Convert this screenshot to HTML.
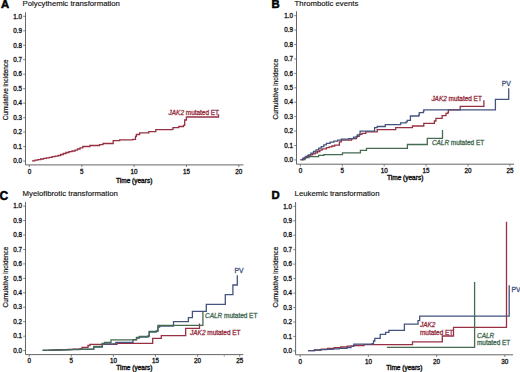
<!DOCTYPE html><html><head><meta charset="utf-8"><style>html,body{margin:0;padding:0;background:#fff;}svg{display:block;font-family:"Liberation Sans",sans-serif;}</style></head><body>
<svg width="520" height="372" viewBox="0 0 520 372">
<text x="1.1" y="8.1" font-size="11.3" font-weight="bold" fill="#000" stroke="#000" stroke-width="0.5">A</text>
<text x="22.6" y="6.3" font-size="7.75" fill="#111" stroke="#111" stroke-width="0.15">Polycythemic transformation</text>
<path d="M25.5 12.3V164.9H243.5" fill="none" stroke="#666" stroke-width="1"/>
<path d="M23.2 161.1H25.5" stroke="#666" stroke-width="0.8"/>
<text x="21.9" y="163.29999999999998" font-size="6.3" text-anchor="end" font-weight="normal" font-style="normal" fill="#111" stroke="#111" stroke-width="0.3" >0.0</text>
<path d="M23.2 146.6H25.5" stroke="#666" stroke-width="0.8"/>
<text x="21.9" y="148.79999999999998" font-size="6.3" text-anchor="end" font-weight="normal" font-style="normal" fill="#111" stroke="#111" stroke-width="0.3" >0.1</text>
<path d="M23.2 132.1H25.5" stroke="#666" stroke-width="0.8"/>
<text x="21.9" y="134.29999999999998" font-size="6.3" text-anchor="end" font-weight="normal" font-style="normal" fill="#111" stroke="#111" stroke-width="0.3" >0.2</text>
<path d="M23.2 117.7H25.5" stroke="#666" stroke-width="0.8"/>
<text x="21.9" y="119.9" font-size="6.3" text-anchor="end" font-weight="normal" font-style="normal" fill="#111" stroke="#111" stroke-width="0.3" >0.3</text>
<path d="M23.2 103.2H25.5" stroke="#666" stroke-width="0.8"/>
<text x="21.9" y="105.4" font-size="6.3" text-anchor="end" font-weight="normal" font-style="normal" fill="#111" stroke="#111" stroke-width="0.3" >0.4</text>
<path d="M23.2 88.7H25.5" stroke="#666" stroke-width="0.8"/>
<text x="21.9" y="90.9" font-size="6.3" text-anchor="end" font-weight="normal" font-style="normal" fill="#111" stroke="#111" stroke-width="0.3" >0.5</text>
<path d="M23.2 74.2H25.5" stroke="#666" stroke-width="0.8"/>
<text x="21.9" y="76.4" font-size="6.3" text-anchor="end" font-weight="normal" font-style="normal" fill="#111" stroke="#111" stroke-width="0.3" >0.6</text>
<path d="M23.2 59.7H25.5" stroke="#666" stroke-width="0.8"/>
<text x="21.9" y="61.900000000000006" font-size="6.3" text-anchor="end" font-weight="normal" font-style="normal" fill="#111" stroke="#111" stroke-width="0.3" >0.7</text>
<path d="M23.2 45.3H25.5" stroke="#666" stroke-width="0.8"/>
<text x="21.9" y="47.5" font-size="6.3" text-anchor="end" font-weight="normal" font-style="normal" fill="#111" stroke="#111" stroke-width="0.3" >0.8</text>
<path d="M23.2 30.8H25.5" stroke="#666" stroke-width="0.8"/>
<text x="21.9" y="33.0" font-size="6.3" text-anchor="end" font-weight="normal" font-style="normal" fill="#111" stroke="#111" stroke-width="0.3" >0.9</text>
<path d="M23.2 16.3H25.5" stroke="#666" stroke-width="0.8"/>
<text x="21.9" y="18.5" font-size="6.3" text-anchor="end" font-weight="normal" font-style="normal" fill="#111" stroke="#111" stroke-width="0.3" >1.0</text>
<path d="M29.4 164.9V167.1" stroke="#666" stroke-width="0.8"/>
<text x="29.4" y="173.6" font-size="6.3" text-anchor="middle" font-weight="normal" font-style="normal" fill="#111" stroke="#111" stroke-width="0.3" >0</text>
<path d="M81.8 164.9V167.1" stroke="#666" stroke-width="0.8"/>
<text x="81.8" y="173.6" font-size="6.3" text-anchor="middle" font-weight="normal" font-style="normal" fill="#111" stroke="#111" stroke-width="0.3" >5</text>
<path d="M134.1 164.9V167.1" stroke="#666" stroke-width="0.8"/>
<text x="134.1" y="173.6" font-size="6.3" text-anchor="middle" font-weight="normal" font-style="normal" fill="#111" stroke="#111" stroke-width="0.3" >10</text>
<path d="M186.5 164.9V167.1" stroke="#666" stroke-width="0.8"/>
<text x="186.5" y="173.6" font-size="6.3" text-anchor="middle" font-weight="normal" font-style="normal" fill="#111" stroke="#111" stroke-width="0.3" >15</text>
<path d="M238.8 164.9V167.1" stroke="#666" stroke-width="0.8"/>
<text x="238.8" y="173.6" font-size="6.3" text-anchor="middle" font-weight="normal" font-style="normal" fill="#111" stroke="#111" stroke-width="0.3" >20</text>
<text x="134.2" y="183.3" font-size="6.5" text-anchor="middle" fill="#111" stroke="#111" stroke-width="0.38">Time (years)</text>
<text x="0" y="0" font-size="6.4" text-anchor="middle" fill="#111" stroke="#111" stroke-width="0.2" transform="translate(8.2 89.8) rotate(-90)">Cumulative incidence</text>
<text x="271.6" y="8.4" font-size="11.3" font-weight="bold" fill="#000" stroke="#000" stroke-width="0.5">B</text>
<text x="294.6" y="6.3" font-size="7.75" fill="#111" stroke="#111" stroke-width="0.15">Thrombotic events</text>
<path d="M296.5 11.3V164.2H514" fill="none" stroke="#666" stroke-width="1"/>
<path d="M294.2 159.9H296.5" stroke="#666" stroke-width="0.8"/>
<text x="292.9" y="162.1" font-size="6.3" text-anchor="end" font-weight="normal" font-style="normal" fill="#111" stroke="#111" stroke-width="0.3" >0.0</text>
<path d="M294.2 145.5H296.5" stroke="#666" stroke-width="0.8"/>
<text x="292.9" y="147.7" font-size="6.3" text-anchor="end" font-weight="normal" font-style="normal" fill="#111" stroke="#111" stroke-width="0.3" >0.1</text>
<path d="M294.2 131.1H296.5" stroke="#666" stroke-width="0.8"/>
<text x="292.9" y="133.29999999999998" font-size="6.3" text-anchor="end" font-weight="normal" font-style="normal" fill="#111" stroke="#111" stroke-width="0.3" >0.2</text>
<path d="M294.2 116.6H296.5" stroke="#666" stroke-width="0.8"/>
<text x="292.9" y="118.8" font-size="6.3" text-anchor="end" font-weight="normal" font-style="normal" fill="#111" stroke="#111" stroke-width="0.3" >0.3</text>
<path d="M294.2 102.2H296.5" stroke="#666" stroke-width="0.8"/>
<text x="292.9" y="104.4" font-size="6.3" text-anchor="end" font-weight="normal" font-style="normal" fill="#111" stroke="#111" stroke-width="0.3" >0.4</text>
<path d="M294.2 87.8H296.5" stroke="#666" stroke-width="0.8"/>
<text x="292.9" y="90.0" font-size="6.3" text-anchor="end" font-weight="normal" font-style="normal" fill="#111" stroke="#111" stroke-width="0.3" >0.5</text>
<path d="M294.2 73.4H296.5" stroke="#666" stroke-width="0.8"/>
<text x="292.9" y="75.60000000000001" font-size="6.3" text-anchor="end" font-weight="normal" font-style="normal" fill="#111" stroke="#111" stroke-width="0.3" >0.6</text>
<path d="M294.2 59.0H296.5" stroke="#666" stroke-width="0.8"/>
<text x="292.9" y="61.2" font-size="6.3" text-anchor="end" font-weight="normal" font-style="normal" fill="#111" stroke="#111" stroke-width="0.3" >0.7</text>
<path d="M294.2 44.5H296.5" stroke="#666" stroke-width="0.8"/>
<text x="292.9" y="46.7" font-size="6.3" text-anchor="end" font-weight="normal" font-style="normal" fill="#111" stroke="#111" stroke-width="0.3" >0.8</text>
<path d="M294.2 30.1H296.5" stroke="#666" stroke-width="0.8"/>
<text x="292.9" y="32.300000000000004" font-size="6.3" text-anchor="end" font-weight="normal" font-style="normal" fill="#111" stroke="#111" stroke-width="0.3" >0.9</text>
<path d="M294.2 15.7H296.5" stroke="#666" stroke-width="0.8"/>
<text x="292.9" y="17.9" font-size="6.3" text-anchor="end" font-weight="normal" font-style="normal" fill="#111" stroke="#111" stroke-width="0.3" >1.0</text>
<path d="M300.4 164.2V166.39999999999998" stroke="#666" stroke-width="0.8"/>
<text x="300.4" y="172.6" font-size="6.3" text-anchor="middle" font-weight="normal" font-style="normal" fill="#111" stroke="#111" stroke-width="0.3" >0</text>
<path d="M342.3 164.2V166.39999999999998" stroke="#666" stroke-width="0.8"/>
<text x="342.3" y="172.6" font-size="6.3" text-anchor="middle" font-weight="normal" font-style="normal" fill="#111" stroke="#111" stroke-width="0.3" >5</text>
<path d="M384.2 164.2V166.39999999999998" stroke="#666" stroke-width="0.8"/>
<text x="384.2" y="172.6" font-size="6.3" text-anchor="middle" font-weight="normal" font-style="normal" fill="#111" stroke="#111" stroke-width="0.3" >10</text>
<path d="M426.1 164.2V166.39999999999998" stroke="#666" stroke-width="0.8"/>
<text x="426.1" y="172.6" font-size="6.3" text-anchor="middle" font-weight="normal" font-style="normal" fill="#111" stroke="#111" stroke-width="0.3" >15</text>
<path d="M468.0 164.2V166.39999999999998" stroke="#666" stroke-width="0.8"/>
<text x="468.0" y="172.6" font-size="6.3" text-anchor="middle" font-weight="normal" font-style="normal" fill="#111" stroke="#111" stroke-width="0.3" >20</text>
<path d="M509.9 164.2V166.39999999999998" stroke="#666" stroke-width="0.8"/>
<text x="509.9" y="172.6" font-size="6.3" text-anchor="middle" font-weight="normal" font-style="normal" fill="#111" stroke="#111" stroke-width="0.3" >25</text>
<text x="405.2" y="179.6" font-size="6.5" text-anchor="middle" fill="#111" stroke="#111" stroke-width="0.38">Time (years)</text>
<text x="0" y="0" font-size="6.4" text-anchor="middle" fill="#111" stroke="#111" stroke-width="0.2" transform="translate(277.6 89) rotate(-90)">Cumulative incidence</text>
<text x="-0.6" y="199.5" font-size="12.0" font-weight="bold" fill="#000" stroke="#000" stroke-width="0.5">C</text>
<text x="22.6" y="196.1" font-size="7.75" fill="#111" stroke="#111" stroke-width="0.15">Myelofibrotic transformation</text>
<path d="M25.5 201.9V354.6H243.3" fill="none" stroke="#666" stroke-width="1"/>
<path d="M23.2 350.6H25.5" stroke="#666" stroke-width="0.8"/>
<text x="21.9" y="352.8" font-size="6.3" text-anchor="end" font-weight="normal" font-style="normal" fill="#111" stroke="#111" stroke-width="0.3" >0.0</text>
<path d="M23.2 336.2H25.5" stroke="#666" stroke-width="0.8"/>
<text x="21.9" y="338.4" font-size="6.3" text-anchor="end" font-weight="normal" font-style="normal" fill="#111" stroke="#111" stroke-width="0.3" >0.1</text>
<path d="M23.2 321.7H25.5" stroke="#666" stroke-width="0.8"/>
<text x="21.9" y="323.9" font-size="6.3" text-anchor="end" font-weight="normal" font-style="normal" fill="#111" stroke="#111" stroke-width="0.3" >0.2</text>
<path d="M23.2 307.2H25.5" stroke="#666" stroke-width="0.8"/>
<text x="21.9" y="309.4" font-size="6.3" text-anchor="end" font-weight="normal" font-style="normal" fill="#111" stroke="#111" stroke-width="0.3" >0.3</text>
<path d="M23.2 292.8H25.5" stroke="#666" stroke-width="0.8"/>
<text x="21.9" y="295.0" font-size="6.3" text-anchor="end" font-weight="normal" font-style="normal" fill="#111" stroke="#111" stroke-width="0.3" >0.4</text>
<path d="M23.2 278.4H25.5" stroke="#666" stroke-width="0.8"/>
<text x="21.9" y="280.59999999999997" font-size="6.3" text-anchor="end" font-weight="normal" font-style="normal" fill="#111" stroke="#111" stroke-width="0.3" >0.5</text>
<path d="M23.2 263.9H25.5" stroke="#666" stroke-width="0.8"/>
<text x="21.9" y="266.09999999999997" font-size="6.3" text-anchor="end" font-weight="normal" font-style="normal" fill="#111" stroke="#111" stroke-width="0.3" >0.6</text>
<path d="M23.2 249.5H25.5" stroke="#666" stroke-width="0.8"/>
<text x="21.9" y="251.7" font-size="6.3" text-anchor="end" font-weight="normal" font-style="normal" fill="#111" stroke="#111" stroke-width="0.3" >0.7</text>
<path d="M23.2 235.0H25.5" stroke="#666" stroke-width="0.8"/>
<text x="21.9" y="237.2" font-size="6.3" text-anchor="end" font-weight="normal" font-style="normal" fill="#111" stroke="#111" stroke-width="0.3" >0.8</text>
<path d="M23.2 220.6H25.5" stroke="#666" stroke-width="0.8"/>
<text x="21.9" y="222.79999999999998" font-size="6.3" text-anchor="end" font-weight="normal" font-style="normal" fill="#111" stroke="#111" stroke-width="0.3" >0.9</text>
<path d="M23.2 206.1H25.5" stroke="#666" stroke-width="0.8"/>
<text x="21.9" y="208.29999999999998" font-size="6.3" text-anchor="end" font-weight="normal" font-style="normal" fill="#111" stroke="#111" stroke-width="0.3" >1.0</text>
<path d="M29.2 354.6V356.8" stroke="#666" stroke-width="0.8"/>
<text x="29.2" y="363.3" font-size="6.3" text-anchor="middle" font-weight="normal" font-style="normal" fill="#111" stroke="#111" stroke-width="0.3" >0</text>
<path d="M71.3 354.6V356.8" stroke="#666" stroke-width="0.8"/>
<text x="71.3" y="363.3" font-size="6.3" text-anchor="middle" font-weight="normal" font-style="normal" fill="#111" stroke="#111" stroke-width="0.3" >5</text>
<path d="M113.4 354.6V356.8" stroke="#666" stroke-width="0.8"/>
<text x="113.4" y="363.3" font-size="6.3" text-anchor="middle" font-weight="normal" font-style="normal" fill="#111" stroke="#111" stroke-width="0.3" >10</text>
<path d="M155.5 354.6V356.8" stroke="#666" stroke-width="0.8"/>
<text x="155.5" y="363.3" font-size="6.3" text-anchor="middle" font-weight="normal" font-style="normal" fill="#111" stroke="#111" stroke-width="0.3" >15</text>
<path d="M197.6 354.6V356.8" stroke="#666" stroke-width="0.8"/>
<text x="197.6" y="363.3" font-size="6.3" text-anchor="middle" font-weight="normal" font-style="normal" fill="#111" stroke="#111" stroke-width="0.3" >20</text>
<path d="M239.7 354.6V356.8" stroke="#666" stroke-width="0.8"/>
<text x="239.7" y="363.3" font-size="6.3" text-anchor="middle" font-weight="normal" font-style="normal" fill="#111" stroke="#111" stroke-width="0.3" >25</text>
<text x="134.4" y="370.2" font-size="6.5" text-anchor="middle" fill="#111" stroke="#111" stroke-width="0.38">Time (years)</text>
<text x="0" y="0" font-size="6.4" text-anchor="middle" fill="#111" stroke="#111" stroke-width="0.2" transform="translate(8.2 277) rotate(-90)">Cumulative incidence</text>
<text x="271.4" y="198.9" font-size="11.3" font-weight="bold" fill="#000" stroke="#000" stroke-width="0.5">D</text>
<text x="294.6" y="196.1" font-size="7.75" fill="#111" stroke="#111" stroke-width="0.15">Leukemic transformation</text>
<path d="M295.6 202V354.8H513" fill="none" stroke="#666" stroke-width="1"/>
<path d="M293.3 350.9H295.6" stroke="#666" stroke-width="0.8"/>
<text x="292.0" y="353.09999999999997" font-size="6.3" text-anchor="end" font-weight="normal" font-style="normal" fill="#111" stroke="#111" stroke-width="0.3" >0.0</text>
<path d="M293.3 336.4H295.6" stroke="#666" stroke-width="0.8"/>
<text x="292.0" y="338.59999999999997" font-size="6.3" text-anchor="end" font-weight="normal" font-style="normal" fill="#111" stroke="#111" stroke-width="0.3" >0.1</text>
<path d="M293.3 322.0H295.6" stroke="#666" stroke-width="0.8"/>
<text x="292.0" y="324.2" font-size="6.3" text-anchor="end" font-weight="normal" font-style="normal" fill="#111" stroke="#111" stroke-width="0.3" >0.2</text>
<path d="M293.3 307.5H295.6" stroke="#666" stroke-width="0.8"/>
<text x="292.0" y="309.7" font-size="6.3" text-anchor="end" font-weight="normal" font-style="normal" fill="#111" stroke="#111" stroke-width="0.3" >0.3</text>
<path d="M293.3 293.1H295.6" stroke="#666" stroke-width="0.8"/>
<text x="292.0" y="295.3" font-size="6.3" text-anchor="end" font-weight="normal" font-style="normal" fill="#111" stroke="#111" stroke-width="0.3" >0.4</text>
<path d="M293.3 278.6H295.6" stroke="#666" stroke-width="0.8"/>
<text x="292.0" y="280.8" font-size="6.3" text-anchor="end" font-weight="normal" font-style="normal" fill="#111" stroke="#111" stroke-width="0.3" >0.5</text>
<path d="M293.3 264.1H295.6" stroke="#666" stroke-width="0.8"/>
<text x="292.0" y="266.3" font-size="6.3" text-anchor="end" font-weight="normal" font-style="normal" fill="#111" stroke="#111" stroke-width="0.3" >0.6</text>
<path d="M293.3 249.7H295.6" stroke="#666" stroke-width="0.8"/>
<text x="292.0" y="251.89999999999998" font-size="6.3" text-anchor="end" font-weight="normal" font-style="normal" fill="#111" stroke="#111" stroke-width="0.3" >0.7</text>
<path d="M293.3 235.2H295.6" stroke="#666" stroke-width="0.8"/>
<text x="292.0" y="237.39999999999998" font-size="6.3" text-anchor="end" font-weight="normal" font-style="normal" fill="#111" stroke="#111" stroke-width="0.3" >0.8</text>
<path d="M293.3 220.8H295.6" stroke="#666" stroke-width="0.8"/>
<text x="292.0" y="223.0" font-size="6.3" text-anchor="end" font-weight="normal" font-style="normal" fill="#111" stroke="#111" stroke-width="0.3" >0.9</text>
<path d="M293.3 206.3H295.6" stroke="#666" stroke-width="0.8"/>
<text x="292.0" y="208.5" font-size="6.3" text-anchor="end" font-weight="normal" font-style="normal" fill="#111" stroke="#111" stroke-width="0.3" >1.0</text>
<path d="M300.2 354.8V357.0" stroke="#666" stroke-width="0.8"/>
<text x="300.2" y="363.6" font-size="6.3" text-anchor="middle" font-weight="normal" font-style="normal" fill="#111" stroke="#111" stroke-width="0.3" >0</text>
<path d="M368.4 354.8V357.0" stroke="#666" stroke-width="0.8"/>
<text x="368.4" y="363.6" font-size="6.3" text-anchor="middle" font-weight="normal" font-style="normal" fill="#111" stroke="#111" stroke-width="0.3" >10</text>
<path d="M436.6 354.8V357.0" stroke="#666" stroke-width="0.8"/>
<text x="436.6" y="363.6" font-size="6.3" text-anchor="middle" font-weight="normal" font-style="normal" fill="#111" stroke="#111" stroke-width="0.3" >20</text>
<path d="M504.8 354.8V357.0" stroke="#666" stroke-width="0.8"/>
<text x="504.8" y="363.6" font-size="6.3" text-anchor="middle" font-weight="normal" font-style="normal" fill="#111" stroke="#111" stroke-width="0.3" >30</text>
<text x="404.4" y="370.4" font-size="6.5" text-anchor="middle" fill="#111" stroke="#111" stroke-width="0.38">Time (years)</text>
<text x="0" y="0" font-size="6.4" text-anchor="middle" fill="#111" stroke="#111" stroke-width="0.2" transform="translate(277.6 277) rotate(-90)">Cumulative incidence</text>
<path d="M32 160.8H34.9V160.2H37.8V159.6H40.7V159.0H43.6V158.4H46.4V157.9H49.3V157.3H52.2V156.7H55.1V156.1H58.0V155.5H60.7V154.5H63.3V153.5H66.0V152.5H69.0V151.7H72.0V151.0H75.0V150.2H77.5V149.0H80.0V147.8H82.8V146.5H89.9V145.5H99.5V144.7H103V143.5H113.2V140.7H119.7V139.9H132.8V139.3H135.5V136.3H136.4V134.5H139.6V132.8H148.8V131.7H155.8V129.7H171.9V129.3H173V127.6H178.8V126.5H183.5V125.3H184.7V120H186.4V117H218.5V114.2" fill="none" stroke="#963042" stroke-width="1.3" stroke-linejoin="miter" stroke-linecap="butt"/>
<text x="168.6" y="114.8" font-size="6.45" fill="#963042" stroke="#963042" stroke-width="0.3"><tspan font-style="italic">JAK2</tspan> mutated ET</text>
<path d="M300.6 159.7H305V157.5H309V156.7H318.6V155.4H323.8V154.6H342.5V152.8H360.4V150.4H366.5V148.3H407.4V144.5H427.3V138.3H442.5V130" fill="none" stroke="#456b52" stroke-width="1.3" stroke-linejoin="miter" stroke-linecap="butt"/>
<path d="M300.6 159.7H302.9V158.4H305.2V157.1H307.5V155.8H310.1V154.8H312.6V153.8H315.2V152.8H317.5V151.5H319.8V150.2H322.1V148.9H326.4V147.6H329.2V146.8H331.9V146.0H334.7V145.2H339.4V141.9H341.3V140.1H351.6V138.6H356.4V136.3H359.2V134.4H362V133.3H365.8V131.8H377.2V129.6H395.7V127.7H412.4V126H423.8V123.4H434.4V121H435.9V118.4H442.1V115.7H446V113.3H447.9V112.3H448.4V109.9H460.2V106.3H483.9V100.2" fill="none" stroke="#963042" stroke-width="1.3" stroke-linejoin="miter" stroke-linecap="butt"/>
<path d="M300.6 159.7H303.2V158.1H305.8V156.4H308.3V154.8H310.9V153.1H313.5V151.5H316.1V149.9H318.7V148.2H321.2V146.6H323.8V144.9H326.4V143.3H330.1V142.2H333.9V141.2H337.6V140.2H341.3V139.1H348.8V138.6H353.5V137.2H357.3V134.9H360.1V131.1H374.6V127.7H377.2V126.5H385.3V124.6H400.6V122.8H406.1V121.9H407.2V120.3H410.4V116H418.8V115H419.3V112.7H423.4V111.5H423.8V109.8H495.4V99.3H508.7V88.3" fill="none" stroke="#44547f" stroke-width="1.3" stroke-linejoin="miter" stroke-linecap="butt"/>
<text x="431.4" y="101.4" font-size="6.45" fill="#963042" stroke="#963042" stroke-width="0.3"><tspan font-style="italic">JAK2</tspan> mutated ET</text>
<text x="431.9" y="145.3" font-size="6.45" fill="#456b52" stroke="#456b52" stroke-width="0.3"><tspan font-style="italic">CALR</tspan> mutated ET</text>
<text x="501.8" y="86.0" font-size="6.8" text-anchor="start" font-weight="normal" font-style="normal" fill="#44547f" stroke="#44547f" stroke-width="0.3" >PV</text>
<path d="M42.7 350.3H48.9V350.1H55.1V349.8H61.4V349.6H67.6V349.3H73.8V349.1H80.0V348.8H82V347.3H88V345.5H90V344.4H117V343.3H152.7V338.3H161.3V335.6H185.7V328.4H199.5V323.4" fill="none" stroke="#963042" stroke-width="1.3" stroke-linejoin="miter" stroke-linecap="butt"/>
<path d="M42.7 350.3H50.2V350.1H57.6V349.9H65.1V349.6H72.5V349.4H80.0V349.2H93.7V347H102.3V344H115.8V342.3H133V339.6H136.5V338.2H139.4V337H148V335.8H149.2V332H156.2V330.8H157.9V327H159.6V326H173.5V321.6H188.4V317.7H192.4V311.4H206.3V304.4H225.3V294.7H232.9V285H237.3V275.3" fill="none" stroke="#44547f" stroke-width="1.3" stroke-linejoin="miter" stroke-linecap="butt"/>
<path d="M42.7 350.3H52.0V350.1H61.4V349.9H70.7V349.6H80.0V349.4H93.7V346.5H102.3V343.5H104.5V342.3H111V339.8H136.5V337.5H139.4V336.3H149.2V331.3H157.9V325.3H202.9V311.6" fill="none" stroke="#456b52" stroke-width="1.3" stroke-linejoin="miter" stroke-linecap="butt"/>
<path d="M224.3 354.6V356.6" stroke="#888" stroke-width="0.8"/>
<text x="234.4" y="272.7" font-size="6.8" text-anchor="start" font-weight="normal" font-style="normal" fill="#44547f" stroke="#44547f" stroke-width="0.3" >PV</text>
<text x="205.1" y="317.9" font-size="6.45" fill="#456b52" stroke="#456b52" stroke-width="0.3"><tspan font-style="italic">CALR</tspan> mutated ET</text>
<text x="190.1" y="335.2" font-size="6.45" fill="#963042" stroke="#963042" stroke-width="0.3"><tspan font-style="italic">JAK2</tspan> mutated ET</text>
<path d="M308.1 350.7H314.6V350.0H321.2V349.2H327.7V348.5H334.2V347.7H340.7V347.0H347.3V346.2H353.8V345.5H364V344.7H412.5V341.8H442.3V336H453.5V327.3H506.5V221.8" fill="none" stroke="#963042" stroke-width="1.3" stroke-linejoin="miter" stroke-linecap="butt"/>
<path d="M308.1 350.7H314.3V350.2H320.5V349.7H326.6V349.3H332.8V348.8H339.0V348.3H347V347.6H351V346.2H353.8V344.2H372.1V343.7H373.5V341H374.8V338.4H380.2V334.3H385.6V332.3H388.9V330.3H404.4V324.2H418V320.6H419.7V316.1H509.2V285.3" fill="none" stroke="#44547f" stroke-width="1.3" stroke-linejoin="miter" stroke-linecap="butt"/>
<path d="M386.9 347.3H474.6V282.1" fill="none" stroke="#456b52" stroke-width="1.3" stroke-linejoin="miter" stroke-linecap="butt"/>
<text x="420" y="326.9" font-size="6.45" fill="#963042" stroke="#963042" stroke-width="0.3" font-style="italic">JAK2</text>
<text x="420" y="335.0" font-size="6.45" fill="#963042" stroke="#963042" stroke-width="0.3">mutated ET</text>
<text x="477" y="338.2" font-size="6.45" fill="#456b52" stroke="#456b52" stroke-width="0.3" font-style="italic">CALR</text>
<text x="477" y="345.4" font-size="6.45" fill="#456b52" stroke="#456b52" stroke-width="0.3">mutated ET</text>
<text x="511.5" y="291.7" font-size="6.8" text-anchor="start" font-weight="normal" font-style="normal" fill="#44547f" stroke="#44547f" stroke-width="0.3" >PV</text>
</svg></body></html>
